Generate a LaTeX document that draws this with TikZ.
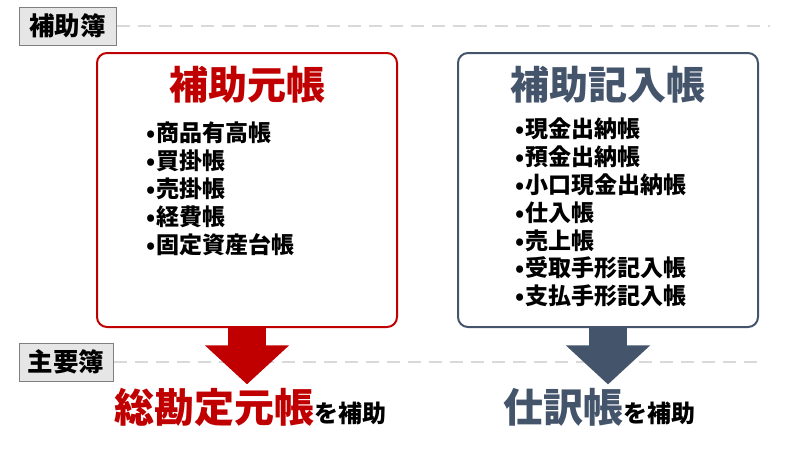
\documentclass[tikz,border=0pt]{standalone}
\usepackage{fontspec}
\setmainfont{Noto Sans CJK JP}[BoldFont={Noto Sans CJK JP Black}]
\usetikzlibrary{arrows.meta, positioning}
\definecolor{ledgerred}{HTML}{C00000}
\definecolor{slate}{HTML}{44546A}
\definecolor{tagfill}{HTML}{E7E6E6}
\definecolor{tagdraw}{HTML}{7F7F7F}
\definecolor{dashgray}{HTML}{D9D9D9}

\begin{document}
\begin{tikzpicture}[x=1pt, y=-1pt]
\tikzstyle{tag} = [rectangle, draw=tagdraw, fill=tagfill, line width=1pt, minimum height=38pt, inner sep=0pt, font=\bfseries\fontsize{25.5}{25.5}\selectfont]
\tikzstyle{ledger} = [rectangle, rounded corners=10pt, line width=2pt, fill=white, minimum width=300pt, minimum height=274pt]
\tikzstyle{title} = [font=\bfseries\fontsize{39}{39}\selectfont]
\tikzstyle{items} = [align=left, inner sep=0pt, anchor=north west, font=\bfseries\fontsize{23}{27.8}\selectfont]
\tikzstyle{result} = [font=\bfseries]
\tikzstyle{dashline} = [dashgray, line width=2pt, dash pattern=on 13pt off 8pt]
\tikzstyle{bigarrow} = [line width=38pt, -{Triangle[length=39pt, width=82pt]}]
\newcommand{\bookbig}[2]{{\fontsize{40}{40}\selectfont\color{#1}#2}}
\newcommand{\booksmall}[1]{{\fontsize{24}{24}\selectfont #1}}
\newcommand{\itm}{•\hspace{1pt}}
\useasboundingbox (0,0) rectangle (800,450);
% Tags and dashed guides
\node (tag_sub) [tag, minimum width=97pt] at (67.5,26) {補助簿};
\node (tag_main) [tag, minimum width=94pt] at (66,362) {主要簿};
\coordinate (sub_end) at (770,26);
\coordinate (main_end) at (763,362);
\draw [dashline] (tag_sub.east) -- (sub_end);
\draw [dashline] (tag_main.east) -- (main_end);
% Boxes
\node (sub_ledger) [ledger, draw=ledgerred] at (247,190) {};
\node (sub_journal) [ledger, draw=slate] at (608,190) {};
\node (sub_ledger_title) [title, text=ledgerred] at (247,85) {補助元帳};
\node (sub_journal_title) [title, text=slate] at (608,85) {補助記入帳};
\node (sub_ledger_items) [items] at (146,122) {\itm 商品有高帳\\\itm 買掛帳\\\itm 売掛帳\\\itm 経費帳\\\itm 固定資産台帳};
\node (sub_journal_items) [items] at (515,118) {\itm 現金出納帳\\\itm 預金出納帳\\\itm 小口現金出納帳\\\itm 仕入帳\\\itm 売上帳\\\itm 受取手形記入帳\\\itm 支払手形記入帳};
% Main books
\node (gl_text) [result] at (250,407) {\bookbig{ledgerred}{総勘定元帳}\booksmall{を補助}};
\node (journal_text) [result] at (599,407) {\bookbig{slate}{仕訳帳}\booksmall{を補助}};
% Arrows
\draw [bigarrow, ledgerred] (sub_ledger.south) -- (sub_ledger.south |- gl_text.north);
\draw [bigarrow, slate] (sub_journal.south) -- (sub_journal.south |- journal_text.north);
\end{tikzpicture}
\end{document}
